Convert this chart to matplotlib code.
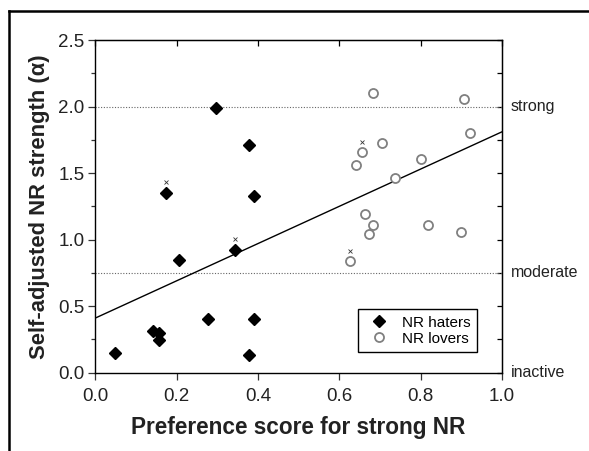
import numpy as np
import matplotlib
matplotlib.use('Agg')
import matplotlib.pyplot as plt
from matplotlib.lines import Line2D
from matplotlib.ticker import MultipleLocator

plt.rcParams['font.family'] = ['Liberation Sans', 'DejaVu Sans']

# NR haters (filled diamonds)
haters_x = [0.047, 0.141, 0.157, 0.157, 0.206, 0.276, 0.344, 0.377, 0.391,
            0.297, 0.377, 0.174, 0.391]
haters_y = [0.149, 0.310, 0.300, 0.242, 0.848, 0.404, 0.924, 0.129, 0.399,
            1.992, 1.714, 1.351, 1.331]

# NR lovers (open circles)
lovers_x = [0.682, 0.907, 0.921, 0.704, 0.656, 0.641, 0.800, 0.738, 0.663,
            0.682, 0.672, 0.819, 0.900, 0.627]
lovers_y = [2.106, 2.061, 1.803, 1.727, 1.659, 1.563, 1.604, 1.464, 1.192,
            1.111, 1.045, 1.111, 1.058, 0.841]

# small crosses above some points
cross_x = [0.174, 0.344, 0.655, 0.627]
cross_y = [1.434, 1.008, 1.732, 0.911]

# regression line
fit_intercept = 0.41
fit_slope = 1.40

# reference levels
level_values = [0.0, 0.75, 2.0]
level_names = ['inactive', 'moderate', 'strong']

fig = plt.figure(figsize=(5.89, 4.51), dpi=100)
ax = fig.add_axes([0.162, 0.174, 0.690, 0.737])

for v in level_values[1:]:
    ax.axhline(v, color='#666666', linestyle=(0, (1, 1.5)), linewidth=0.8, zorder=1)

xs = np.array([0.0, 1.0])
ax.plot(xs, fit_intercept + fit_slope * xs, color='black', linewidth=1.0, zorder=2)

ax.plot(haters_x, haters_y, linestyle='none', marker='D', markersize=6,
        color='black', label='NR haters', zorder=3)
ax.plot(lovers_x, lovers_y, linestyle='none', marker='o', markersize=6.5,
        markerfacecolor='white', markeredgecolor='#808080', markeredgewidth=1.3,
        label='NR lovers', zorder=3)
ax.plot(cross_x, cross_y, linestyle='none', marker='x', markersize=3.5,
        color='#333333', markeredgewidth=0.6, zorder=3)

ax.set_xlim(0, 1.0)
ax.set_ylim(0, 2.5)
ax.xaxis.set_major_locator(MultipleLocator(0.2))
ax.yaxis.set_major_locator(MultipleLocator(0.5))
ax.yaxis.set_minor_locator(MultipleLocator(0.25))
ax.set_xticklabels([f'{v:.1f}' for v in ax.get_xticks()])
ax.set_yticklabels([f'{v:.1f}' for v in ax.get_yticks()])

ax.tick_params(axis='both', which='major', direction='out', length=5,
               width=0.9, labelsize=13.5, pad=3, color='#333333',
               labelcolor='#222222')
ax.tick_params(axis='x', which='major', pad=6)
ax.tick_params(axis='y', which='minor', direction='out', length=3, width=0.9,
               color='#333333')
# mirrored ticks on top and right pointing inward
secx = ax.secondary_xaxis('top')
secx.xaxis.set_major_locator(MultipleLocator(0.2))
secx.tick_params(direction='in', length=4, width=0.9, labeltop=False)
secy = ax.secondary_yaxis('right')
secy.yaxis.set_major_locator(MultipleLocator(0.25))
secy.tick_params(direction='in', length=3.5, width=0.9, labelright=False)
for s in ['top', 'right', 'bottom', 'left']:
    ax.spines[s].set_linewidth(1.0)

for v, name in zip(level_values, level_names):
    ax.text(1.022, v, name, transform=ax.get_yaxis_transform(), fontsize=11.5,
            va='center', ha='left', color='#222222')

ax.set_xlabel('Preference score for strong NR', fontsize=16.3, fontweight='bold',
              labelpad=8, color='#222222')
ax.set_ylabel('Self-adjusted NR strength (α)', fontsize=15.8, fontweight='bold',
              labelpad=6, color='#222222')

leg = ax.legend(loc='lower right', bbox_to_anchor=(0.938, 0.062), fontsize=11,
                frameon=True, fancybox=False, edgecolor='black',
                handletextpad=0.5, borderpad=0.4, labelspacing=0.15,
                handlelength=2.0, borderaxespad=0, framealpha=1)
leg.get_frame().set_linewidth(1.0)

# figure border (left and top)
fig.add_artist(Line2D([9 / 589, 9 / 589], [0, 1 - 11 / 451], color='black',
                      linewidth=1.8, transform=fig.transFigure))
fig.add_artist(Line2D([9 / 589, 1], [1 - 11 / 451, 1 - 11 / 451], color='black',
                      linewidth=1.8, transform=fig.transFigure))

fig.savefig('out.png', dpi=100)
